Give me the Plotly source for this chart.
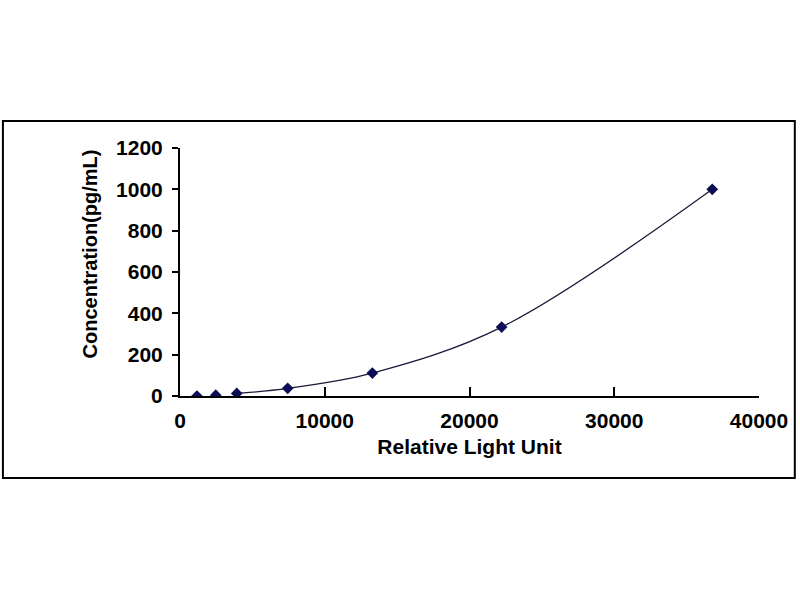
"""Standard curve: concentration vs relative light unit"""
import plotly.graph_objects as go

# standard points
rlu = [1170, 2470, 3920, 7440, 13290, 22220, 36770]
conc = [0, 4.12, 12.35, 37.04, 111.11, 333.33, 1000]

x_ticks = [0, 10000, 20000, 30000, 40000]
y_ticks = [0, 200, 400, 600, 800, 1000, 1200]

font_bold = "Liberation Sans"
navy = "#0d0d55"

fig = go.Figure()

# fitted curve (drawn from the third standard onward)
fig.add_trace(
    go.Scatter(
        x=rlu[2:],
        y=conc[2:],
        mode="lines",
        line=dict(color="#1a1a3a", width=1.3, shape="spline", smoothing=1.0),
        hoverinfo="skip",
    )
)

fig.add_trace(
    go.Scatter(
        x=rlu,
        y=conc,
        mode="markers",
        marker=dict(symbol="diamond", size=9, color=navy),
    )
)

fig.update_layout(
    width=800,
    height=600,
    autosize=False,
    plot_bgcolor="white",
    paper_bgcolor="white",
    showlegend=False,
    margin=dict(l=180, r=38, t=148, b=204),
    font=dict(family=font_bold, size=21, color="black"),
)

# outer frame around the chart
fig.add_shape(
    type="rect",
    xref="paper",
    yref="paper",
    x0=(2 - 180) / 582,
    x1=(798 - 180) / 582,
    y0=(396 - 478) / 248,
    y1=(396 - 121) / 248,
    line=dict(color="black", width=2),
    fillcolor="rgba(0,0,0,0)",
    layer="below",
)

# y title sits a bit above the middle of the axis, so place it by hand
fig.add_annotation(
    text="<b>Concentration(pg/mL)</b>",
    xref="paper",
    yref="paper",
    x=(90 - 180) / 582,
    y=(396 - 254) / 248,
    xanchor="center",
    yanchor="middle",
    textangle=-90,
    showarrow=False,
    font=dict(size=20),
)

fig.update_xaxes(
    range=[0, 40000],
    tickvals=x_ticks,
    ticktext=["<b>%d</b>" % v for v in x_ticks],
    ticks="inside",
    ticklen=9,
    tickwidth=2,
    tickcolor="black",
    showline=True,
    linecolor="black",
    linewidth=2,
    showgrid=False,
    zeroline=False,
    ticklabelstandoff=5,
    title=dict(text="<b>Relative Light Unit</b>", font=dict(size=21), standoff=8),
)

fig.update_yaxes(
    range=[0, 1200],
    tickvals=y_ticks,
    ticktext=["<b>%d</b>" % v for v in y_ticks],
    ticks="outside",
    ticklen=6,
    tickwidth=2,
    tickcolor="black",
    showline=True,
    linecolor="black",
    linewidth=2,
    showgrid=False,
    zeroline=False,
    ticklabelstandoff=5,
)

fig.write_html(
    "out.html",
    config={"displayModeBar": False},
    post_script="document.body.style.margin = '0';",
)
